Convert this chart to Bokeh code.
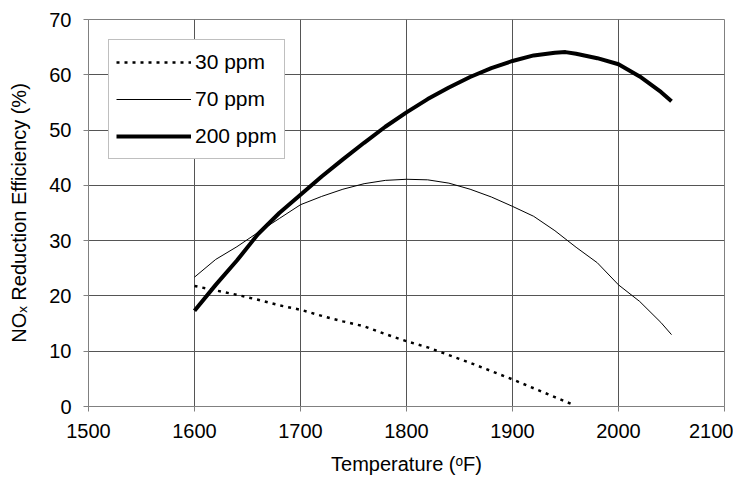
from bokeh.plotting import figure
from bokeh.models import Range1d, SingleIntervalTicker, Legend, LegendItem
from bokeh.embed import file_html
from bokeh.resources import INLINE

# Data
temp_30 = [1600, 1620, 1640, 1660, 1680, 1700, 1720, 1740, 1760, 1780, 1800,
           1820, 1840, 1860, 1880, 1900, 1920, 1940, 1955]
eff_30 = [21.8, 21.0, 20.2, 19.3, 18.3, 17.5, 16.4, 15.4, 14.5, 13.1, 11.8,
          10.7, 9.3, 7.9, 6.4, 4.9, 3.3, 1.7, 0.5]

temp_70 = [1600, 1620, 1640, 1660, 1680, 1700, 1720, 1740, 1760, 1780, 1800,
           1820, 1840, 1860, 1880, 1900, 1920, 1940, 1960, 1980, 2000, 2020,
           2040, 2050]
eff_70 = [23.4, 26.6, 28.9, 31.5, 34.0, 36.5, 38.0, 39.3, 40.3, 40.9, 41.1,
          41.0, 40.4, 39.3, 37.9, 36.2, 34.4, 31.8, 28.8, 26.0, 22.0, 19.0,
          15.2, 13.0]

temp_200 = [1600, 1620, 1640, 1660, 1680, 1700, 1720, 1740, 1760, 1780, 1800,
            1820, 1840, 1860, 1880, 1900, 1920, 1940, 1950, 1960, 1980, 2000,
            2020, 2040, 2050]
eff_200 = [17.3, 22.0, 26.4, 31.2, 35.0, 38.3, 41.6, 44.7, 47.7, 50.6, 53.2,
           55.6, 57.7, 59.6, 61.2, 62.5, 63.5, 64.0, 64.1, 63.8, 63.0, 61.9,
           59.7, 56.9, 55.2]

x_ticks_interval = 100
y_ticks_interval = 10

FONT = "Liberation Sans"

p = figure(width=733, height=477, output_backend="svg", toolbar_location=None,
           x_range=Range1d(1500, 2100), y_range=Range1d(0, 70),
           min_border_left=88, min_border_right=9, min_border_top=19,
           min_border_bottom=69)

p.background_fill_color = "white"
p.border_fill_color = "white"
p.outline_line_color = "#808080"
p.outline_line_width = 1

p.xaxis.ticker = SingleIntervalTicker(interval=x_ticks_interval)
p.yaxis.ticker = SingleIntervalTicker(interval=y_ticks_interval)
p.xaxis.minor_tick_line_color = None
p.yaxis.minor_tick_line_color = None
for ax in (p.xaxis, p.yaxis):
    ax.axis_line_color = "#808080"
    ax.major_tick_line_color = "#808080"
    ax.major_tick_in = 0
    ax.major_tick_out = 5
    ax.major_label_text_font = FONT
    ax.major_label_text_font_size = "20px"
    ax.major_label_text_color = "black"
    ax.axis_label_text_font = FONT
    ax.axis_label_text_font_size = "20px"
    ax.axis_label_text_font_style = "normal"
    ax.axis_label_text_color = "black"

p.xaxis.axis_label = "Temperature (\u1d52F)"
p.yaxis.axis_label = "NO\u2093 Reduction Efficiency (%)"
p.xaxis.major_label_standoff = 12
p.yaxis.major_label_standoff = 12
p.xaxis.axis_label_standoff = 12
p.yaxis.axis_label_standoff = 16

p.xgrid.grid_line_color = "#555555"
p.ygrid.grid_line_color = "#555555"
p.xgrid.grid_line_width = 1
p.ygrid.grid_line_width = 1

r30 = p.line(temp_30, eff_30, line_color="black", line_width=2.5, line_dash="3 5")
r70 = p.line(temp_70, eff_70, line_color="black", line_width=1)
r200 = p.line(temp_200, eff_200, line_color="black", line_width=4)

legend = Legend(items=[LegendItem(label="30 ppm", renderers=[r30]),
                       LegendItem(label="70 ppm", renderers=[r70]),
                       LegendItem(label="200 ppm", renderers=[r200])],
                location="top_left", margin=20, padding=7, spacing=7,
                glyph_width=75, glyph_height=30, label_height=30,
                label_standoff=4,
                label_text_font=FONT, label_text_font_size="21px",
                label_text_color="black",
                border_line_color="#808080", border_line_width=1,
                background_fill_color="white", background_fill_alpha=1.0)
p.add_layout(legend, "center")

open("out.html", "w").write(file_html(p, INLINE))
